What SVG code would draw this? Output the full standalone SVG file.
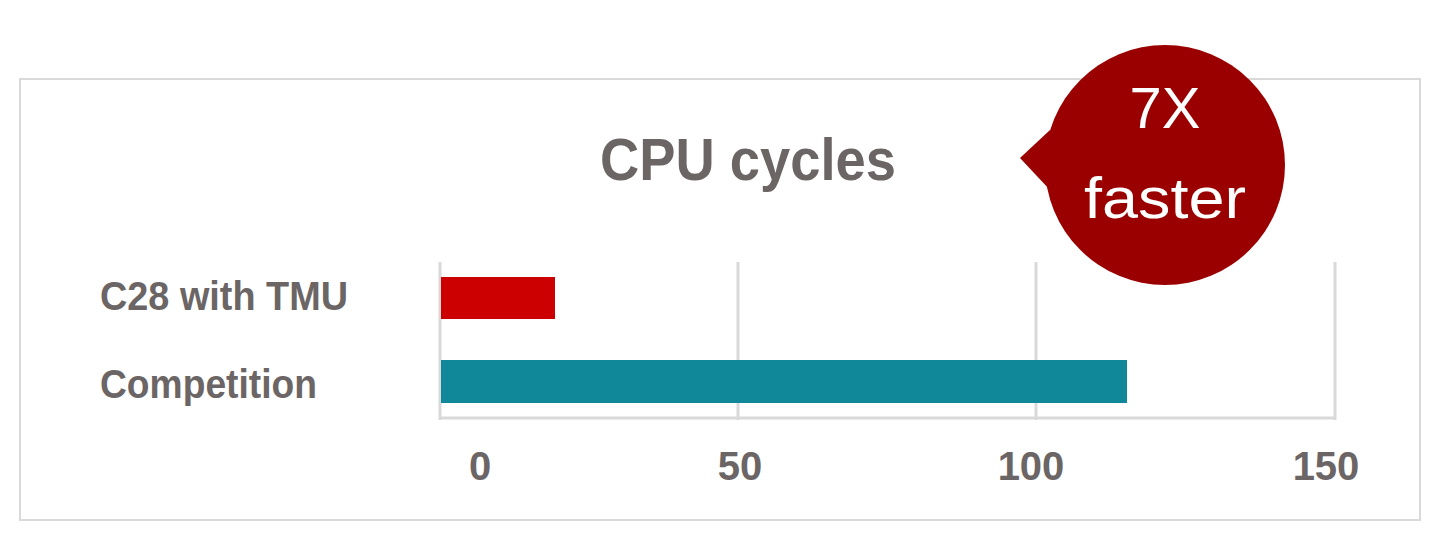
<svg xmlns="http://www.w3.org/2000/svg" width="1440" height="540" viewBox="0 0 1440 540">
<style>
.t{font-family:"Liberation Sans",Arial,sans-serif;font-weight:bold;fill:#6b6565}
.g{stroke:#d9d9d9;stroke-width:3;fill:none}
.w{font-family:"Liberation Sans",Arial,sans-serif;fill:#fff}
</style>
<rect x="0" y="0" width="1440" height="540" fill="#fff"/>
<rect x="20" y="79" width="1400" height="441" fill="#fff" stroke="#d9d9d9" stroke-width="2"/>
<text class="t" x="748" y="180" font-size="60" text-anchor="middle" textLength="296" lengthAdjust="spacingAndGlyphs">CPU cycles</text>
<g id="grid">
<line class="g" x1="440" y1="262" x2="440" y2="420"/>
<line class="g" x1="738" y1="262" x2="738" y2="420"/>
<line class="g" x1="1036" y1="262" x2="1036" y2="420"/>
<line class="g" x1="1335" y1="262" x2="1335" y2="420"/>
<line class="g" x1="439" y1="418" x2="1336" y2="418"/>
</g>
<g id="bar-c28"><rect x="441" y="277" width="114" height="42" fill="#cc0000"/></g>
<g id="bar-competition"><rect x="441" y="360" width="686" height="43" fill="#118899"/></g>
<text class="t" x="100" y="310" font-size="40" textLength="248" lengthAdjust="spacingAndGlyphs">C28 with TMU</text>
<text class="t" x="100" y="398" font-size="40" textLength="217" lengthAdjust="spacingAndGlyphs">Competition</text>
<g class="t" font-size="40" text-anchor="middle">
<text x="480" y="480">0</text>
<text x="740" y="480">50</text>
<text x="1031" y="480">100</text>
<text x="1326" y="480">150</text>
</g>
<g id="callout">
<path d="M1020,158 L1050,130 L1050,190 Z" fill="#9b0000"/>
<circle cx="1165" cy="165" r="120" fill="#9b0000"/>
<text class="w" x="1165" y="128" font-size="58" text-anchor="middle">7X</text>
<text class="w" x="1165" y="218" font-size="58" text-anchor="middle" textLength="162" lengthAdjust="spacingAndGlyphs">faster</text>
</g>
</svg>
